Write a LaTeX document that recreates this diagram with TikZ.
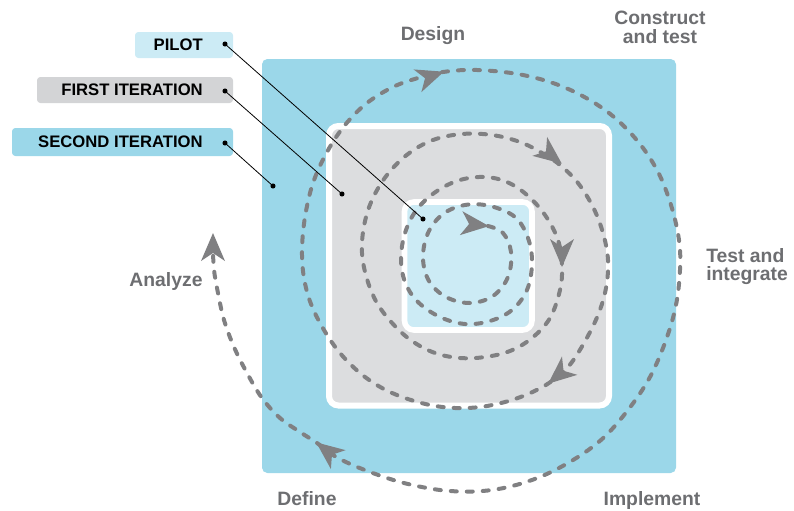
\documentclass[tikz,border=0pt]{standalone}
\usepackage{fontspec}
\setmainfont{Liberation Sans}
\definecolor{bigblue}{RGB}{155,215,233}
\definecolor{paleblue}{RGB}{204,235,245}
\definecolor{boxgray}{RGB}{220,221,223}
\definecolor{labgray}{RGB}{211,212,214}
\definecolor{dashgray}{RGB}{128,128,130}
\definecolor{txtgray}{RGB}{109,110,113}
\begin{document}
\begin{tikzpicture}[x=0.75pt,y=-0.75pt,
  stage/.style={font=\fontsize{14.5pt}{17pt}\selectfont\bfseries, text=txtgray, inner sep=0pt, anchor=base},
  tag/.style={font=\fontsize{12.5pt}{14pt}\selectfont\bfseries, text=black, inner sep=0pt, anchor=east},
  spiral/.style={draw=dashgray, line width=3pt, line cap=round, dash pattern=on 4.5pt off 7.5pt},
  leader/.style={draw=black, line width=0.6pt},
  dotmark/.style={fill=black},
  arrowhd/.pic={\fill[dashgray] (1,0) -- (-27,12) -- (-19,0) -- (-27,-12) -- cycle;}
]
\useasboundingbox (0,0) rectangle (794,511);

% boxes
\fill[bigblue, rounded corners=4pt] (262,59) rectangle (676,473);
\filldraw[fill=boxgray, draw=white, line width=4.5pt, rounded corners=7pt] (329,126) rectangle (609,405.5);
\filldraw[fill=paleblue, draw=white, line width=4.2pt, rounded corners=7pt] (404.5,202) rectangle (532,330);

% label boxes
\fill[paleblue, rounded corners=2.5pt] (135,32) rectangle (233,58);
\fill[labgray, rounded corners=2.5pt] (37,77) rectangle (233,103);
\fill[bigblue, rounded corners=2.5pt] (12,128) rectangle (233,156);

% spiral
\draw[spiral] plot[smooth, tension=0.6] coordinates {
 (488,226) (503,233) (511,252) (508,277) (493,296) (470,303) (446,297) (429,281) (423,258) (428,233) (443,214) (465,205) (490,206)
 (515,217) (528,238) (532,263) (527,290) (512,310) (490,321) (465,324) (440,317) (418,302) (405,282) (401,257) (406,230) (418,208) (437,191) (460,180) (485,177) (507,182) (527,195) (545,215) (558,240) (562,266)
 (560,290) (550,318) (532,338) (510,351) (485,357) (460,358) (435,353) (412,341) (393,324) (377,303) (367,279) (362,253) (364,226) (372,200) (387,175) (408,154) (433,140) (462,134) (492,135) (520,142) (542,153) (560,165)
 (578,183) (593,207) (603,233) (608,260) (606,288) (598,315) (584,343) (568,367) (549,383)
 (528,394) (505,402) (480,407) (455,408) (430,405) (405,398) (382,388) (360,373) (340,353) (324,330) (311,304) (304,278) (302,250) (305,217) (313,183) (327,152) (345,125) (367,103) (393,87) (418,78) (443,72)
 (477,70) (523,75) (566,88) (605,110) (635,138) (657,170) (671,205) (679,240) (680,270) (676,305) (666,340) (650,377) (628,410) (601,440) (568,463) (532,480) (492,490) (450,491) (408,484) (370,472) (338,458) (317,443)
 (300,432) (280,418) (262,398) (247,373) (234,347) (224,320) (218,293) (214,270) (213,250)};

% arrowheads
\pic[rotate=-6] at (488,226) {arrowhd};
\pic[rotate=-38] at (561,163) {arrowhd};
\pic[rotate=-90] at (562,266) {arrowhd};
\pic[rotate=-140] at (549,383) {arrowhd};
\pic[rotate=19] at (443,72) {arrowhd};
\pic[rotate=142] at (317,443) {arrowhd};
\pic[rotate=90] at (213,234) {arrowhd};

% labels
\node[tag] (pilot) at (203,45) {PILOT};
\node[tag] (first) at (203,90) {FIRST ITERATION};
\node[tag] (second) at (203,142) {SECOND ITERATION};

\coordinate (pilotA) at (225,44);
\coordinate (pilotB) at (423,219);
\coordinate (firstA) at (225,91);
\coordinate (firstB) at (342,194);
\coordinate (secondA) at (225,143);
\coordinate (secondB) at (273,186);

\draw[leader] (pilotA) -- (pilotB);
\draw[leader] (firstA) -- (firstB);
\draw[leader] (secondA) -- (secondB);
\foreach \p in {pilotA,pilotB,firstA,firstB,secondA,secondB}
  \fill[dotmark] (\p) circle (1.9pt);

% stage names
\node[stage] (design) at (433,40) {Design};
\node[stage] (construct) at (660,24.5) {Construct};
\node[stage] (andtest) at (660,43.5) {and test};
\node[stage, anchor=base west] (testand) at (706,262) {Test and};
\node[stage, anchor=base west] (integrate) at (706,280) {integrate};
\node[stage] (analyze) at (166,286) {Analyze};
\node[stage] (define) at (307,505) {Define};
\node[stage] (implement) at (652,505) {Implement};
\end{tikzpicture}
\end{document}
